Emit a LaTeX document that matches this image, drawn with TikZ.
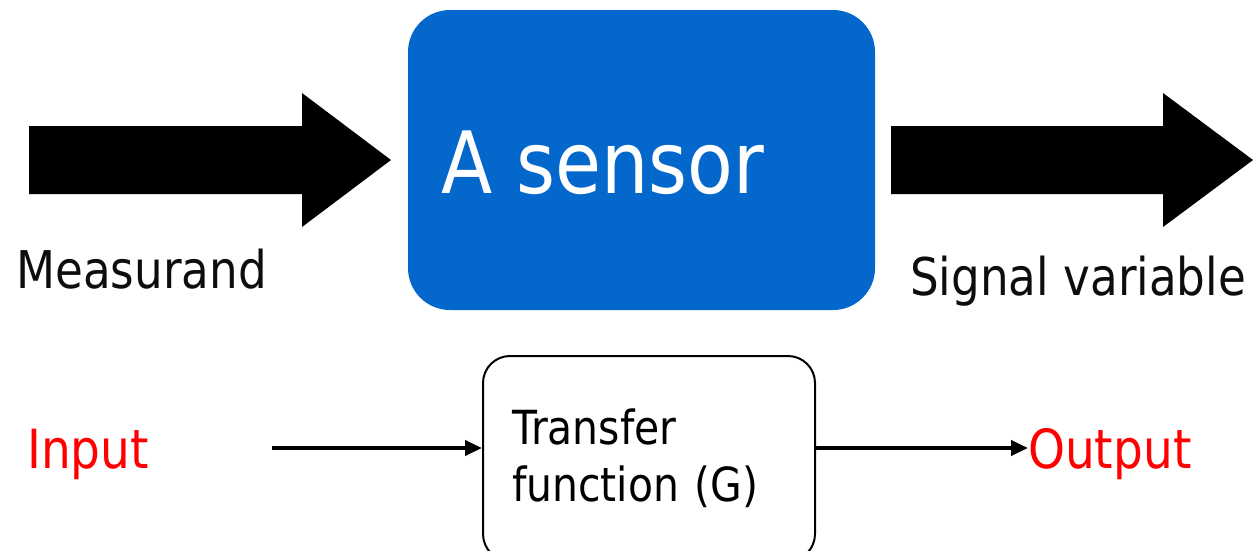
\documentclass[tikz,border=0pt]{standalone}
\usepackage{fontspec}
\setmainfont{DejaVu Sans}[FakeStretch=0.87]
\usepackage{tikz}
\usetikzlibrary{arrows.meta}

\definecolor{sensorblue}{HTML}{0367CC}
\tikzset{
  txt/.style={inner sep=0pt, anchor=base west, text=black!95},
  iolabel/.style={txt, text=red, font=\fontsize{54}{60}\selectfont},
  flow/.style={line width=4pt, -{Triangle[length=17pt,width=15pt]}},
}

\begin{document}
\begin{tikzpicture}[x=1pt,y=-1pt]
    \useasboundingbox (0,0) rectangle (1257,550);

    % top row: measurand -> sensor -> signal
    \node[fill=sensorblue, rounded corners=42pt, minimum width=467pt, minimum height=300pt, inner sep=0pt] (sensor) at (641.5,160) {};
    \node[txt, text=white, font=\fontsize{86}{90}\selectfont] (sensortext) at (441,193) {A sensor};
    \fill (29,126) -- (302,126) -- (302,93) -- (391,160) -- (302,227) -- (302,194) -- (29,194) -- cycle;
    \fill (891,126) -- (1163,126) -- (1163,93) -- (1253,160) -- (1163,227) -- (1163,194) -- (891,194) -- cycle;
    \node[txt, font=\fontsize{52}{60}\selectfont] (measurand) at (16,288) {Measurand};
    \node[txt, font=\fontsize{52}{60}\selectfont] (signal) at (910,295) {Signal variable};

    % bottom row: input -> G -> output
    \node[draw, line width=2pt, rounded corners=27pt, minimum width=332pt, minimum height=205pt,
          text width=274pt, align=left, font=\fontsize{47}{57}\selectfont] (tf) at (649,458.5) {Transfer\\function (G)};
    \node[iolabel] (input) at (27,468) {Input};
    \node[iolabel] (output) at (1028,468) {Output};
    \coordinate (instart) at (272,448);
    \coordinate (outend) at ([yshift=20pt]output.base west);
    \draw[flow] (instart) -- (instart -| tf.west);
    \draw[flow] (outend -| tf.east) -- (outend);
\end{tikzpicture}
\end{document}
